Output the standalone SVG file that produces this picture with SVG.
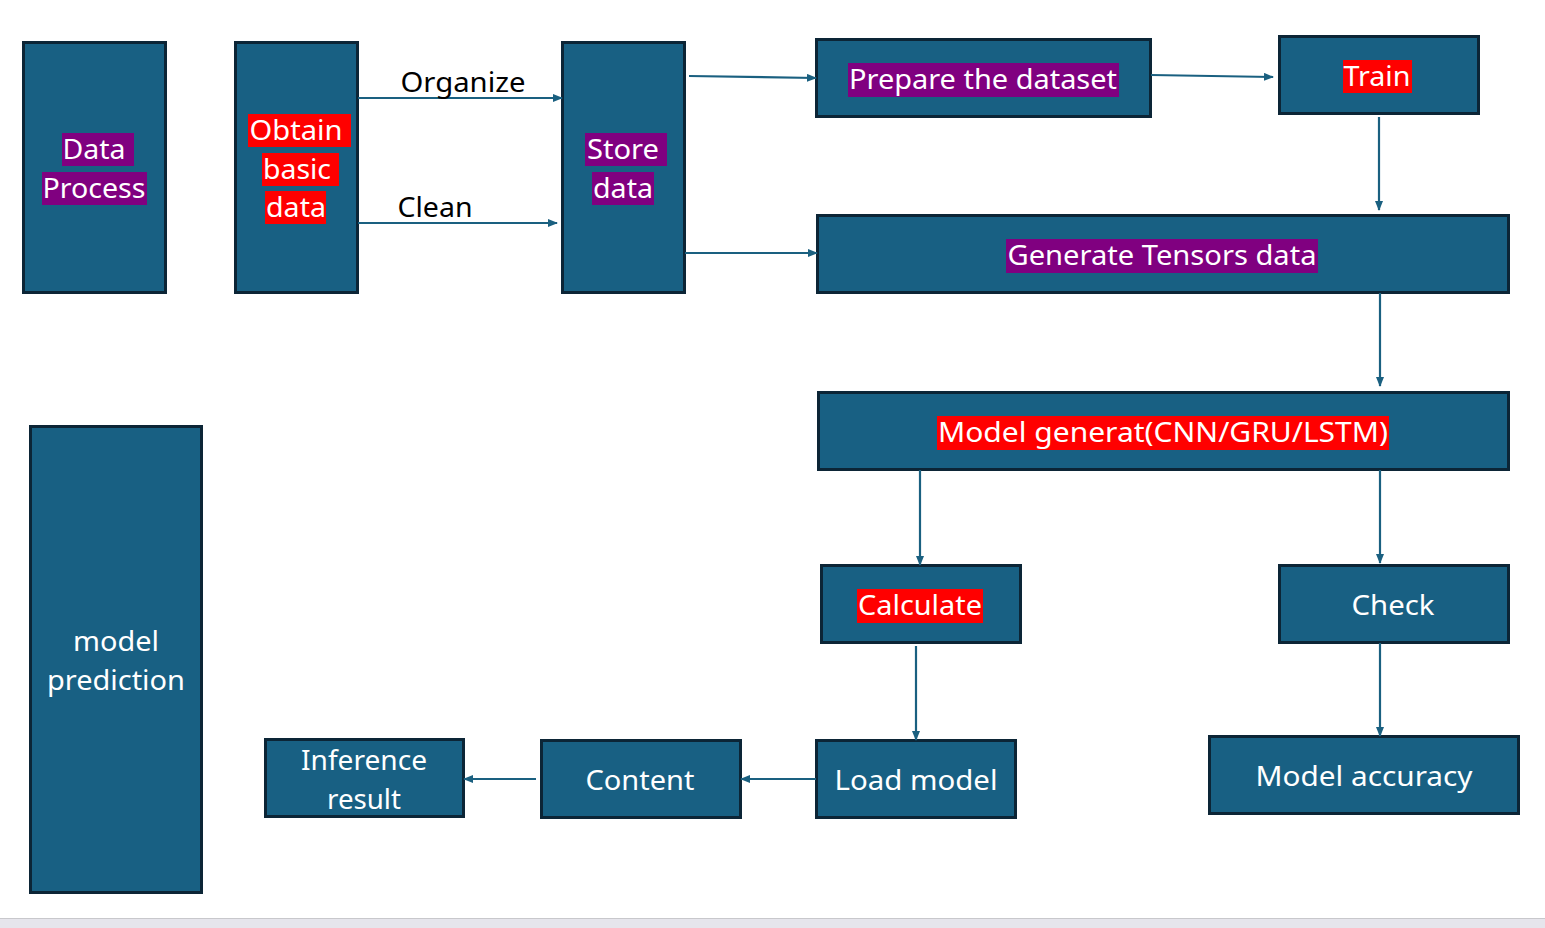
<svg xmlns="http://www.w3.org/2000/svg" width="1545" height="928" viewBox="0 0 1545 928">
<defs>
<style>
.box{fill:#186083;stroke:#0c2536;stroke-width:3}
.t{font-family:"Noto Sans","Open Sans",sans-serif;font-size:28px;fill:#ffffff;text-anchor:middle}
.lbl{font-family:"Noto Sans","Open Sans",sans-serif;font-size:28px;fill:#000000;text-anchor:middle}
.hp{fill:#800080}
.hr{fill:#ff0000}
.c{stroke:#1a6080;stroke-width:2.2;fill:none;marker-end:url(#ah)}
</style>
<marker id="ah" markerWidth="10" markerHeight="8" refX="9" refY="4" orient="auto" markerUnits="userSpaceOnUse">
<path d="M0,0 L10,4 L0,8 Z" fill="#1a6080"/>
</marker>
</defs>
<rect x="0" y="0" width="1545" height="928" fill="#ffffff"/>
<rect x="0" y="918" width="1545" height="10" fill="#e6e5ec"/>
<line x1="0" y1="918.5" x2="1545" y2="918.5" stroke="#c8c8cc" stroke-width="1"/>

<g id="data-process">
<rect class="box" x="23.5" y="42.5" width="142" height="250"/>
<rect class="hp" x="62" y="133" width="72" height="33"/>
<rect class="hp" x="42" y="172" width="105" height="33"/>
<text class="t" x="94" y="159" textLength="63" lengthAdjust="spacingAndGlyphs">Data</text>
<text class="t" x="94" y="198" textLength="103" lengthAdjust="spacingAndGlyphs">Process</text>
</g>
<g id="obtain-basic-data">
<rect class="box" x="235.5" y="42.5" width="122" height="250"/>
<rect class="hr" x="248" y="114" width="103" height="33"/>
<rect class="hr" x="262" y="153" width="77" height="33"/>
<rect class="hr" x="265" y="191" width="61" height="33"/>
<text class="t" x="296" y="140" textLength="93" lengthAdjust="spacingAndGlyphs">Obtain</text>
<text class="t" x="297" y="179" textLength="68" lengthAdjust="spacingAndGlyphs">basic</text>
<text class="t" x="296" y="217" textLength="60" lengthAdjust="spacingAndGlyphs">data</text>
</g>
<g id="store-data">
<rect class="box" x="562.5" y="42.5" width="122" height="250"/>
<rect class="hp" x="585" y="133" width="82" height="33"/>
<rect class="hp" x="592" y="172" width="62" height="33"/>
<text class="t" x="623" y="159" textLength="72" lengthAdjust="spacingAndGlyphs">Store</text>
<text class="t" x="623" y="198" textLength="60" lengthAdjust="spacingAndGlyphs">data</text>
</g>
<g id="prepare-dataset">
<rect class="box" x="816.5" y="39.5" width="334" height="77"/>
<rect class="hp" x="848" y="63" width="271" height="34"/>
<text class="t" x="983" y="89" textLength="268" lengthAdjust="spacingAndGlyphs">Prepare the dataset</text>
</g>
<g id="train">
<rect class="box" x="1279.5" y="36.5" width="199" height="77"/>
<rect class="hr" x="1343" y="60" width="69" height="33"/>
<text class="t" x="1377" y="86" textLength="67" lengthAdjust="spacingAndGlyphs">Train</text>
</g>
<g id="generate-tensors">
<rect class="box" x="817.5" y="215.5" width="691" height="77"/>
<rect class="hp" x="1006" y="239" width="312" height="34"/>
<text class="t" x="1162" y="265" textLength="309" lengthAdjust="spacingAndGlyphs">Generate Tensors data</text>
</g>
<g id="model-generat">
<rect class="box" x="818.5" y="392.5" width="690" height="77"/>
<rect class="hr" x="937" y="416" width="452" height="34"/>
<text class="t" x="1163" y="442" textLength="450" lengthAdjust="spacingAndGlyphs">Model generat(CNN/GRU/LSTM)</text>
</g>
<g id="calculate">
<rect class="box" x="821.5" y="565.5" width="199" height="77"/>
<rect class="hr" x="857" y="589" width="126" height="34"/>
<text class="t" x="920" y="615" textLength="124" lengthAdjust="spacingAndGlyphs">Calculate</text>
</g>
<g id="check">
<rect class="box" x="1279.5" y="565.5" width="229" height="77"/>
<text class="t" x="1393" y="615" textLength="83" lengthAdjust="spacingAndGlyphs">Check</text>
</g>
<g id="model-prediction">
<rect class="box" x="30.5" y="426.5" width="171" height="466"/>
<text class="t" x="116" y="651" textLength="86" lengthAdjust="spacingAndGlyphs">model</text>
<text class="t" x="116" y="690" textLength="138" lengthAdjust="spacingAndGlyphs">prediction</text>
</g>
<g id="inference-result">
<rect class="box" x="265.5" y="739.5" width="198" height="77"/>
<text class="t" x="364" y="770" textLength="126" lengthAdjust="spacingAndGlyphs">Inference</text>
<text class="t" x="364" y="809" textLength="74" lengthAdjust="spacingAndGlyphs">result</text>
</g>
<g id="content">
<rect class="box" x="541.5" y="740.5" width="199" height="77"/>
<text class="t" x="640" y="790" textLength="109" lengthAdjust="spacingAndGlyphs">Content</text>
</g>
<g id="load-model">
<rect class="box" x="816.5" y="740.5" width="199" height="77"/>
<text class="t" x="916" y="790" textLength="163" lengthAdjust="spacingAndGlyphs">Load model</text>
</g>
<g id="model-accuracy">
<rect class="box" x="1209.5" y="736.5" width="309" height="77"/>
<text class="t" x="1364" y="786" textLength="217" lengthAdjust="spacingAndGlyphs">Model accuracy</text>
</g>

<g id="connectors">
<path class="c" d="M358,98 L562,98"/>
<path class="c" d="M358,223 L557,223"/>
<path class="c" d="M689,76 L816,78"/>
<path class="c" d="M685,253 L817,253"/>
<path class="c" d="M1151,75 L1273,77"/>
<path class="c" d="M1379,117 L1379,210"/>
<path class="c" d="M1380,293 L1380,386"/>
<path class="c" d="M920,470 L920,565"/>
<path class="c" d="M1380,470 L1380,563"/>
<path class="c" d="M916,646 L916,740"/>
<path class="c" d="M1380,643 L1380,736"/>
<path class="c" d="M816,779 L741,779"/>
<path class="c" d="M536,779 L464,779"/>
<text class="lbl" x="463" y="92" textLength="125" lengthAdjust="spacingAndGlyphs">Organize</text>
<text class="lbl" x="435" y="217" textLength="75" lengthAdjust="spacingAndGlyphs">Clean</text>
</g>
</svg>
